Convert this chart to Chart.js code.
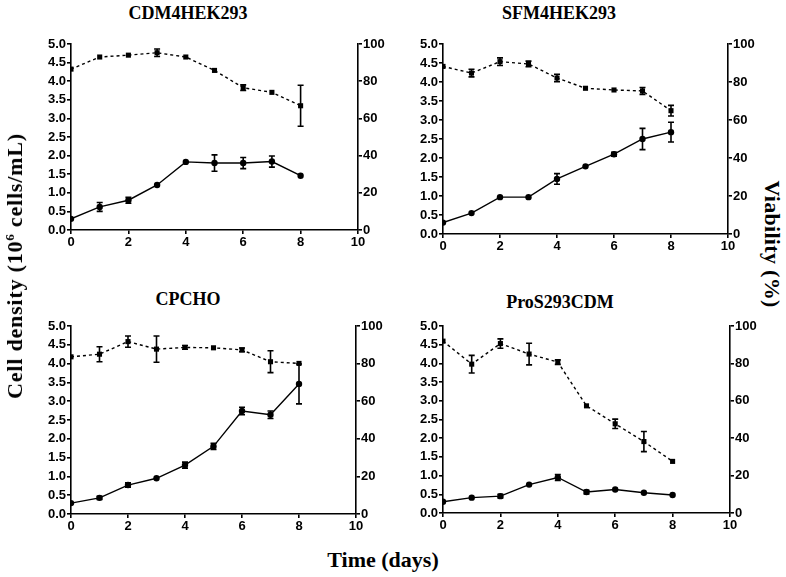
<!DOCTYPE html>
<html>
<head>
<meta charset="utf-8">
<script src="https://cdn.jsdelivr.net/npm/chart.js@4/dist/chart.umd.min.js"></script>
<style>
  html, body { margin: 0; padding: 0; background: #fff; }
  #wrap { position: relative; width: 786px; height: 577px; overflow: hidden; background: #fff; }
  canvas { position: absolute; }
  .lbl { position: absolute; font-family: "Liberation Serif", "DejaVu Serif", serif; font-weight: bold; color: #000; white-space: nowrap; line-height: 1; }
  .title { font-size: 18px; transform: translate(-50%, -50%); }
  .axis { font-size: 22px; }
  sup { font-size: 13px; vertical-align: 0; position: relative; top: -8px; }
</style>
</head>
<body>
<div id="wrap">
  <canvas id="c1" width="365" height="216" style="left:25px;top:34px;"></canvas>
  <canvas id="c2" width="363" height="220" style="left:397px;top:34px;"></canvas>
  <canvas id="c3" width="363" height="218" style="left:25px;top:316px;"></canvas>
  <canvas id="c4" width="365" height="217" style="left:397px;top:316px;"></canvas>

  <div class="lbl title" style="left:188px;top:13px;">CDM4HEK293</div>
  <div class="lbl title" style="left:559px;top:13px;">SFM4HEK293</div>
  <div class="lbl title" style="left:188px;top:299px;">CPCHO</div>
  <div class="lbl title" style="left:560px;top:302px;">ProS293CDM</div>

  <div class="lbl axis" style="left:15px;top:266px;letter-spacing:0.8px;transform:translate(-50%,-50%) rotate(-90deg);">Cell density (10<sup>6</sup> cells/mL)</div>
  <div class="lbl axis" style="left:772px;top:244px;letter-spacing:0.3px;transform:translate(-50%,-50%) rotate(90deg);">Viability (%)</div>
  <div class="lbl axis" style="left:383px;top:560px;transform:translate(-50%,-50%);">Time (days)</div>
</div>
<script>
// ---------- data ----------
const days = [0, 1, 2, 3, 4, 5, 6, 7, 8];
const xTicks = [0, 2, 4, 6, 8, 10];
const densityTicks = [0, 0.5, 1, 1.5, 2, 2.5, 3, 3.5, 4, 4.5, 5];
const viabilityTicks = [0, 20, 40, 60, 80, 100];

const cdmDensity      = [0.30, 0.62, 0.80, 1.21, 1.83, 1.80, 1.80, 1.84, 1.46];
const cdmDensityErr   = [0, 0.12, 0.08, 0, 0, 0.22, 0.15, 0.15, 0];
const cdmViability    = [86.5, 93.0, 94.0, 95.3, 93.0, 85.8, 76.5, 74.0, 66.8];
const cdmViabilityErr = [0, 0, 0, 2, 0, 0, 1.5, 0, 11];

const sfmDensity      = [0.30, 0.55, 0.97, 0.97, 1.45, 1.78, 2.10, 2.50, 2.68];
const sfmDensityErr   = [0, 0, 0, 0, 0.14, 0, 0.05, 0.28, 0.26];
const sfmViability    = [88.2, 84.7, 90.7, 89.5, 82.1, 76.7, 75.8, 75.3, 64.9];
const sfmViabilityErr = [0, 2, 2, 1.5, 2, 0, 0, 1.8, 2.8];

const cpDensity       = [0.29, 0.43, 0.77, 0.95, 1.30, 1.80, 2.74, 2.64, 3.46];
const cpDensityErr    = [0, 0.04, 0.06, 0, 0.08, 0.08, 0.10, 0.10, 0.53];
const cpViability     = [83.6, 85.0, 91.7, 87.7, 88.6, 88.4, 87.3, 81.0, 80.1];
const cpViabilityErr  = [0, 4, 3, 7, 1, 0, 1, 5.8, 0];

const proDensity      = [0.30, 0.41, 0.45, 0.76, 0.95, 0.56, 0.63, 0.54, 0.48];
const proDensityErr   = [0, 0, 0.05, 0, 0.08, 0.05, 0, 0, 0];
const proViability    = [91.9, 79.6, 90.6, 85.0, 80.7, 57.3, 47.7, 38.2, 27.6];
const proViabilityErr = [0, 4.7, 2.5, 5.8, 1.2, 0, 2.5, 5.4, 0];

// ---------- error bar plugin ----------
const errorBars = {
  id: 'errorBars',
  afterDatasetsDraw(chart) {
    const ctx = chart.ctx;
    const xs = chart.scales.x;
    chart.data.datasets.forEach((ds) => {
      if (!ds.errors) return;
      const ys = chart.scales[ds.yAxisID];
      ctx.save();
      ctx.strokeStyle = '#000';
      ctx.lineWidth = 1.6;
      ctx.setLineDash([]);
      ds.data.forEach((pt, i) => {
        const e = ds.errors[i];
        if (!e) return;
        const x = xs.getPixelForValue(pt.x);
        const y1 = ys.getPixelForValue(pt.y + e);
        const y2 = ys.getPixelForValue(pt.y - e);
        ctx.beginPath();
        ctx.moveTo(x, y1); ctx.lineTo(x, y2);
        ctx.moveTo(x - 3, y1); ctx.lineTo(x + 3, y1);
        ctx.moveTo(x - 3, y2); ctx.lineTo(x + 3, y2);
        ctx.stroke();
      });
      ctx.restore();
    });
  }
};

const tickFont = { family: '"Liberation Sans", Arial, sans-serif', size: 13, weight: 'bold' };

function makeChart(id, density, densityErr, viability, viabilityErr) {
  const toPts = (arr) => arr.map((v, i) => ({ x: days[i], y: v }));
  const axisCommon = {
    border: { display: true, color: '#000', width: 1.6 },
    grid: { display: true, drawOnChartArea: false, drawTicks: true, tickLength: 4, color: '#000', lineWidth: 1.6 },
  };
  return new Chart(document.getElementById(id), {
    type: 'scatter',
    data: {
      datasets: [
        {
          label: 'Viability',
          data: toPts(viability),
          errors: viabilityErr,
          yAxisID: 'y2',
          showLine: true,
          borderColor: '#000',
          backgroundColor: '#000',
          borderWidth: 1.4,
          borderDash: [3, 3],
          pointStyle: 'rect',
          pointRadius: 3.6,
          pointBorderWidth: 0,
          tension: 0,
        },
        {
          label: 'Cell density',
          data: toPts(density),
          errors: densityErr,
          yAxisID: 'y',
          showLine: true,
          borderColor: '#000',
          backgroundColor: '#000',
          borderWidth: 1.4,
          pointStyle: 'circle',
          pointRadius: 3.2,
          pointBorderWidth: 0,
          tension: 0,
        },
      ]
    },
    options: {
      responsive: false,
      animation: false,
      layout: { padding: { top: 10, left: 0, right: 0, bottom: 0 } },
      plugins: { legend: { display: false }, tooltip: { enabled: false }, title: { display: false } },
      scales: {
        x: Object.assign({}, axisCommon, {
          type: 'linear', min: 0, max: 10,
          afterBuildTicks: (s) => { s.ticks = xTicks.map(v => ({ value: v })); },
          ticks: { color: '#000', font: tickFont, padding: 1, maxRotation: 0 },
          afterFit: (s) => { s.height = 20; },
        }),
        y: Object.assign({}, axisCommon, {
          type: 'linear', position: 'left', min: 0, max: 5,
          afterBuildTicks: (s) => { s.ticks = densityTicks.map(v => ({ value: v })); },
          ticks: { color: '#000', font: tickFont, padding: 1, callback: (v) => Number(v).toFixed(1) },
          afterFit: (s) => { s.width = 46; },
        }),
        y2: Object.assign({}, axisCommon, {
          type: 'linear', position: 'right', min: 0, max: 100,
          afterBuildTicks: (s) => { s.ticks = viabilityTicks.map(v => ({ value: v })); },
          ticks: { color: '#000', font: tickFont, padding: 1 },
          afterFit: (s) => { s.width = 32; },
        }),
      }
    },
    plugins: [errorBars]
  });
}

makeChart('c1', cdmDensity, cdmDensityErr, cdmViability, cdmViabilityErr);
makeChart('c2', sfmDensity, sfmDensityErr, sfmViability, sfmViabilityErr);
makeChart('c3', cpDensity, cpDensityErr, cpViability, cpViabilityErr);
makeChart('c4', proDensity, proDensityErr, proViability, proViabilityErr);
</script>
</body>
</html>
